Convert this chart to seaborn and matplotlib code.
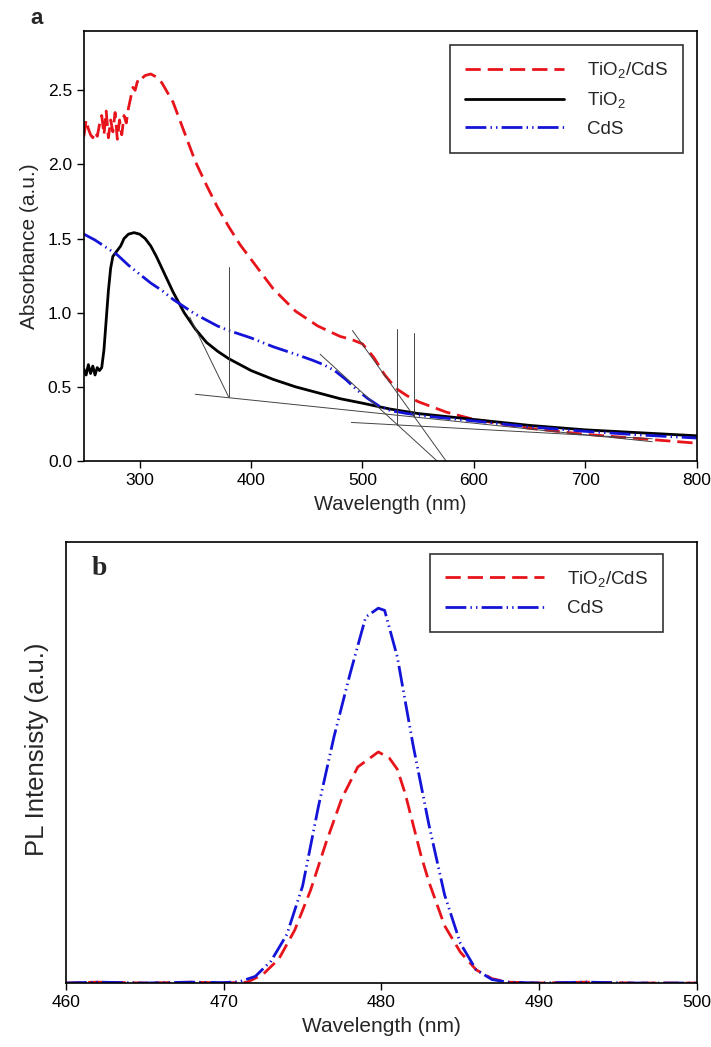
import numpy as np
import pandas as pd
import matplotlib.pyplot as plt
import seaborn as sns

# ---- Panel a: UV-vis absorbance ----
wl_tc = [250, 252, 254, 256, 258, 260, 262, 264, 266, 268, 270, 272, 274, 276, 278,
         280, 282, 284, 286, 288, 290, 292, 294, 296, 298, 300, 302, 305, 310, 315,
         320, 330, 340, 350, 360, 370, 380, 390, 400, 420, 440, 460, 480, 490, 500,
         510, 520, 530, 540, 550, 575, 600, 650, 700, 750, 800]
abs_tc = [2.19, 2.30, 2.24, 2.20, 2.18, 2.22, 2.19, 2.27, 2.33, 2.20, 2.36, 2.18, 2.30, 2.22, 2.35,
          2.17, 2.30, 2.20, 2.33, 2.28, 2.38, 2.45, 2.52, 2.50, 2.56, 2.55, 2.58, 2.60, 2.61, 2.59,
          2.55, 2.42, 2.22, 2.02, 1.86, 1.71, 1.58, 1.46, 1.36, 1.16, 1.01, 0.91, 0.84, 0.82, 0.79,
          0.70, 0.58, 0.49, 0.44, 0.40, 0.33, 0.28, 0.22, 0.18, 0.15, 0.12]

wl_ti = [250, 252, 254, 256, 258, 260, 262, 264, 266, 268, 270, 272, 274, 276, 278, 280,
         283, 286, 290, 295, 300, 305, 310, 315, 320, 325, 330, 335, 340, 350, 360, 370,
         380, 400, 420, 440, 460, 480, 500, 525, 550, 575, 600, 650, 700, 750, 800]
abs_ti = [0.62, 0.58, 0.65, 0.59, 0.64, 0.58, 0.63, 0.61, 0.63, 0.75, 0.95, 1.15, 1.30, 1.38, 1.40, 1.42,
          1.45, 1.50, 1.53, 1.54, 1.53, 1.50, 1.45, 1.38, 1.30, 1.22, 1.14, 1.07, 1.00, 0.89, 0.80, 0.74,
          0.69, 0.61, 0.55, 0.50, 0.46, 0.42, 0.39, 0.35, 0.32, 0.30, 0.28, 0.24, 0.21, 0.19, 0.17]

wl_cds = [250, 260, 270, 280, 290, 300, 310, 320, 330, 340, 350, 360, 370, 380, 400, 420,
          440, 455, 465, 475, 485, 495, 505, 515, 525, 540, 560, 600, 650, 700, 750, 800]
abs_cds = [1.53, 1.49, 1.44, 1.39, 1.32, 1.26, 1.20, 1.15, 1.09, 1.04, 0.99, 0.95, 0.91, 0.88, 0.83, 0.77,
           0.72, 0.68, 0.65, 0.61, 0.55, 0.48, 0.42, 0.37, 0.34, 0.32, 0.30, 0.27, 0.23, 0.20, 0.175, 0.155]

# band-edge construction lines (start, end) in data units
guide_lines = [
    ((345, 0.97), (380, 0.43)),
    ((350, 0.45), (760, 0.13)),
    ((490, 0.26), (760, 0.15)),
    ((380, 0.43), (380, 1.31)),
    ((531, 0.245), (531, 0.89)),
    ((546, 0.30), (546, 0.865)),
    ((462, 0.72), (567, 0.0)),
    ((491, 0.88), (575, 0.0)),
]

# ---- Panel b: PL spectra ----
wl_pl_tc = [460, 462, 465, 468, 470, 471.5, 472.5, 473.5, 474.5, 475.5, 476.5, 477.5, 478.5,
            479.8, 480.5, 481, 481.5, 482, 482.5, 483, 483.5, 484, 485, 486, 487, 488,
            490, 493, 496, 500]
pl_tc = [0.0, 0.002, 0.0, 0.002, 0.0, 0.002, 0.02, 0.055, 0.12, 0.21, 0.32, 0.42, 0.49,
         0.524, 0.51, 0.485, 0.43, 0.36, 0.29, 0.23, 0.18, 0.13, 0.07, 0.03, 0.01, 0.002,
         0.0, 0.002, 0.0, 0.0]

wl_pl_cds = [460, 462, 465, 468, 470, 471, 472, 473, 474, 475, 476, 477, 478, 479, 479.8,
             480.2, 481, 482, 483, 484, 485, 486, 487, 488, 490, 493, 496, 500]
pl_cds = [0.0, 0.002, 0.0, 0.002, 0.001, 0.003, 0.015, 0.05, 0.11, 0.22, 0.40, 0.56, 0.70, 0.83, 0.85,
          0.845, 0.74, 0.54, 0.36, 0.20, 0.09, 0.03, 0.008, 0.002, 0.0, 0.002, 0.0, 0.0]

sns.set_theme(style='ticks')
plt.rcParams['font.family'] = ['Liberation Sans', 'DejaVu Sans']
plt.rcParams['mathtext.default'] = 'regular'
plt.rcParams['axes.linewidth'] = 1.2
plt.rcParams['xtick.major.width'] = 1.0
plt.rcParams['ytick.major.width'] = 1.0
plt.rcParams['xtick.major.size'] = 5
plt.rcParams['ytick.major.size'] = 5
plt.rcParams['xtick.color'] = 'black'
plt.rcParams['ytick.color'] = 'black'
plt.rcParams['axes.edgecolor'] = 'black'

red_ls = (0, (5.5, 2.5))
blue_ls = (0, (7.5, 1.5, 0.5, 1.5, 0.5, 1.5))

fig = plt.figure(figsize=(7.11, 10.47), dpi=100)
ax1 = fig.add_axes([0.118, 0.5597, 0.862, 0.4107])
ax2 = fig.add_axes([0.0928, 0.0611, 0.8875, 0.4212])

# Panel a
sns.lineplot(x=wl_tc, y=abs_tc, ax=ax1, color='#e8141b', linewidth=2, linestyle=red_ls,
             label='TiO$_2$/CdS', sort=False)
sns.lineplot(x=wl_ti, y=abs_ti, ax=ax1, color='black', linewidth=2, label='TiO$_2$', sort=False)
sns.lineplot(x=wl_cds, y=abs_cds, ax=ax1, color='#1414d8', linewidth=2, linestyle=blue_ls,
             label='CdS', sort=False)
for (x0, y0), (x1, y1) in guide_lines:
    ax1.plot([x0, x1], [y0, y1], color='#444444', linewidth=0.7)

ax1.set_xlim(250, 800)
ax1.set_ylim(0, 2.9)
ax1.set_xticks([300, 400, 500, 600, 700, 800])
ax1.set_yticks([0.0, 0.5, 1.0, 1.5, 2.0, 2.5])
ax1.set_yticklabels(['0.0', '0.5', '1.0', '1.5', '2.0', '2.5'])
ax1.tick_params(labelsize=12.5, direction='out')
ax1.set_xlabel('Wavelength (nm)', fontsize=14.5, labelpad=5)
ax1.set_ylabel('Absorbance (a.u.)', fontsize=15, labelpad=6)
leg1 = ax1.legend(loc='upper right', bbox_to_anchor=(0.977, 0.967), fontsize=13.5, frameon=True,
                  fancybox=False, edgecolor='black', handlelength=5.3, handletextpad=1.2,
                  borderpad=0.8, labelspacing=0.55, borderaxespad=0)
leg1.get_frame().set_linewidth(1.2)
fig.text(37 / 711, 1 - 18 / 1047, 'a', fontsize=16, fontweight='bold', ha='center', va='center')

# Panel b
sns.lineplot(x=wl_pl_tc, y=pl_tc, ax=ax2, color='#e8141b', linewidth=2, linestyle=red_ls,
             label='TiO$_2$/CdS', sort=False)
sns.lineplot(x=wl_pl_cds, y=pl_cds, ax=ax2, color='#1414d8', linewidth=2, linestyle=blue_ls,
             label='CdS', sort=False)
ax2.set_xlim(460, 500)
ax2.set_ylim(0, 1.0)
ax2.set_xticks([460, 470, 480, 490, 500])
ax2.set_yticks([])
ax2.tick_params(labelsize=12.5, direction='out')
ax2.set_xlabel('Wavelength (nm)', fontsize=15, labelpad=5)
ax2.set_ylabel('PL Intensisty (a.u.)', fontsize=18.5)
ax2.yaxis.set_label_coords(-0.027, 0.53)
leg2 = ax2.legend(loc='upper right', bbox_to_anchor=(0.946, 0.973), fontsize=13.5, frameon=True,
                  fancybox=False, edgecolor='black', handlelength=5.3, handletextpad=1.2,
                  borderpad=0.8, labelspacing=0.6, borderaxespad=0)
leg2.get_frame().set_linewidth(1.2)
ax2.text(0.04, 0.94, 'b', transform=ax2.transAxes, fontsize=20, fontweight='bold',
         family=['Liberation Serif', 'DejaVu Serif'], ha='left', va='center')

fig.savefig('out.png', dpi=100)
